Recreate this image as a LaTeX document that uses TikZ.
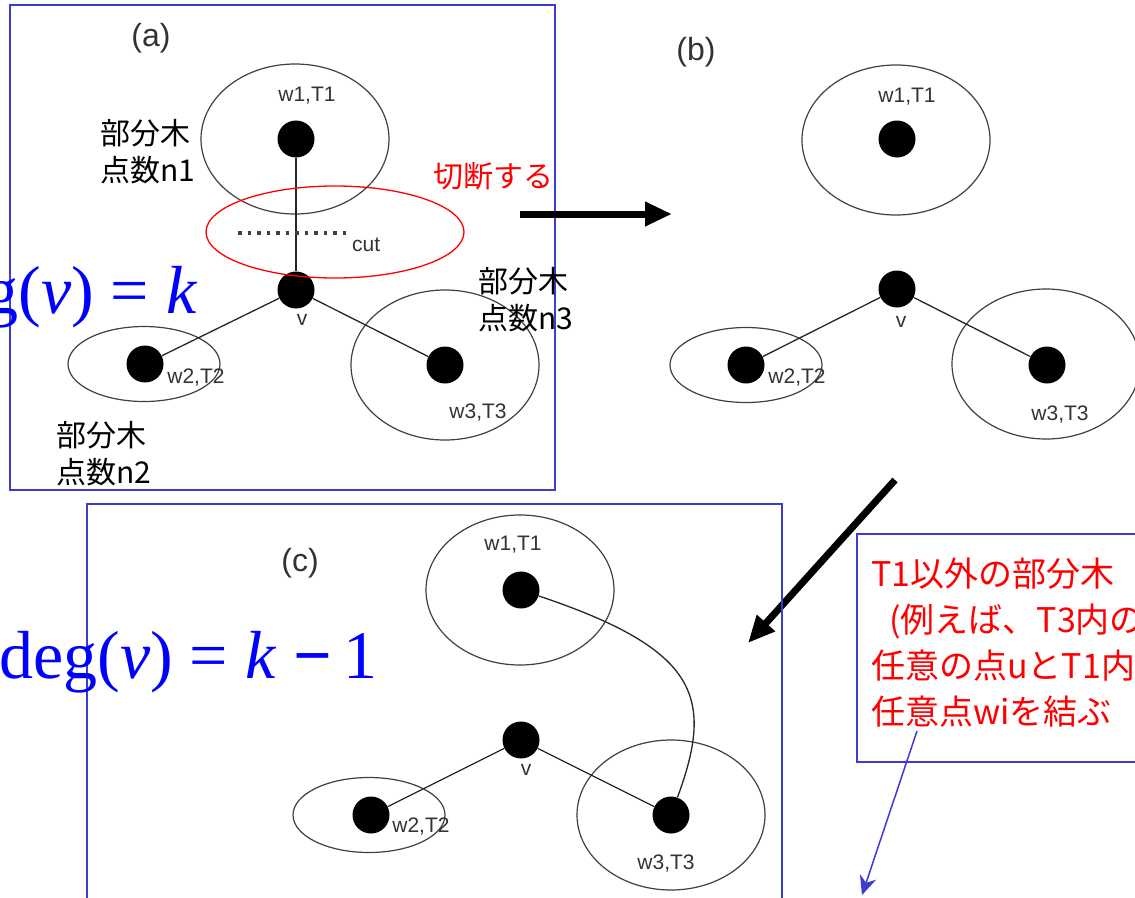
\documentclass[tikz,border=0pt]{standalone}
\usepackage{fontspec}
\setmainfont{Liberation Sans}
\newfontfamily\jpfont{Noto Sans CJK JP}
\newfontfamily\eqfont{Liberation Serif}
\usetikzlibrary{shapes.geometric, arrows.meta, positioning, calc}
\definecolor{frameblue}{RGB}{60,60,210}

\begin{document}
\begin{tikzpicture}[x=1pt, y=-1pt,
          subtree/.style={ellipse, draw=black!75, line width=1.2pt, inner sep=0pt, minimum width=188pt, minimum height=150pt},
          small_tree/.style={subtree, minimum width=152pt, minimum height=75pt},
          vertex/.style={circle, fill=black, minimum size=37pt, inner sep=0pt},
          edge/.style={line width=1.3pt, color=black!85},
          tag/.style={font=\fontsize{21}{21}\selectfont, text=black!80, inner sep=0pt},
          panel/.style={font=\fontsize{32}{32}\selectfont, text=black!80, inner sep=0pt},
          memo/.style={font=\jpfont\fontsize{30}{37}\selectfont, align=left, anchor=west, inner sep=0pt},
          remark/.style={font=\jpfont\fontsize{34}{34}\selectfont, text=red, anchor=base west, inner sep=0pt},
          formula/.style={font=\eqfont\fontsize{68}{68}\selectfont, text=blue, anchor=base west, inner sep=0pt},
          frame/.style={draw=frameblue, line width=1.3pt},
          cutline/.style={line width=3.5pt, color=black!75, dash pattern=on 3.5pt off 6pt},
          bigarrow/.style={-{Triangle[length=27pt, width=23pt]}, line width=7pt},
          hintarrow/.style={-{Stealth[length=19pt, width=17pt]}, line width=1.5pt, color=frameblue}]

        \useasboundingbox (0,0) rectangle (1135,897);
        \fill [white] (0,0) rectangle (1135,897);
        \clip (0,0) rectangle (1135,897);

        \draw [frame] (10,5) rectangle (555,490);
        \node [panel] (label_a) at (151,38) {(a)};
        \node [subtree] (a_t1) at (295,139) {};
        \node [small_tree] (a_t2) at (144,364) {};
        \node [subtree] (a_t3) at (445,365) {};
        \node [vertex] (a_w1) at (296,139) {};
        \node [vertex] (a_v) at (296,290) {};
        \node [vertex] (a_w2) at (145,364) {};
        \node [vertex] (a_w3) at (445,365) {};
        \node [tag] (a_w1_tag) at (307,96) {w1,T1};
        \node [tag] (a_v_tag) at (302,320) {v};
        \node [tag] (a_w2_tag) at (196,378) {w2,T2};
        \node [tag] (a_w3_tag) at (478,413) {w3,T3};
        \draw [edge] (a_w1) -- (a_v);
        \draw [edge] (a_v) -- (a_w2);
        \draw [edge] (a_v) -- (a_w3);

        \node [ellipse, draw=red, line width=1.3pt, inner sep=0pt, minimum width=258pt, minimum height=92pt] (cut_ring) at (335,232) {};
        \coordinate (cut_l) at (238,233);
        \coordinate (cut_r) at (347,233);
        \draw [cutline] (cut_l) -- (cut_r);
        \node [tag, anchor=west] (cut_tag) at (352,245) {cut};
        \node [memo] (size_n1) at (100,152) {部分木\\点数n1};
        \node [memo] (size_n2) at (56,454) {部分木\\点数n2};
        \node [memo] (size_n3) at (478,300) {部分木\\点数n3};
        \node [memo, text=red] (cut_word) at (433,176) {切断する};
        \node [formula] (deg_k) at (-80,313) {deg(\textit{v}) = \textit{k}};

        \coordinate (cut_from) at (520,214);
        \coordinate (cut_to) at (672,214);
        \draw [bigarrow] (cut_from) -- (cut_to);

        \node [panel] (label_b) at (696,52) {(b)};
        \node [subtree] (b_t1) at (896,140) {};
        \node [small_tree] (b_t2) at (746,365) {};
        \node [subtree] (b_t3) at (1046,364) {};
        \node [vertex] (b_w1) at (897,139) {};
        \node [vertex] (b_v) at (897,289) {};
        \node [vertex] (b_w2) at (746,365) {};
        \node [vertex] (b_w3) at (1047,365) {};
        \node [tag] (b_w1_tag) at (907,97) {w1,T1};
        \node [tag] (b_v_tag) at (901,322) {v};
        \node [tag] (b_w2_tag) at (797,378) {w2,T2};
        \node [tag] (b_w3_tag) at (1060,415) {w3,T3};
        \draw [edge] (b_v) -- (b_w2);
        \draw [edge] (b_v) -- (b_w3);

        \coordinate (link_from) at (895,480);
        \coordinate (link_to) at (748,643);
        \draw [bigarrow] (link_from) -- (link_to);

        \draw [frame] (87,504) rectangle (782,910);
        \node [panel] (label_c) at (300,563) {(c)};
        \node [subtree] (c_t1) at (520,590) {};
        \node [small_tree] (c_t2) at (369,815) {};
        \node [subtree] (c_t3) at (671,815) {};
        \node [vertex] (c_w1) at (521,590) {};
        \node [vertex] (c_v) at (521,740) {};
        \node [vertex] (c_w2) at (371,815) {};
        \node [vertex] (c_w3) at (671,815) {};
        \node [tag] (c_w1_tag) at (513,545) {w1,T1};
        \node [tag] (c_v_tag) at (526,770) {v};
        \node [tag] (c_w2_tag) at (421,827) {w2,T2};
        \node [tag] (c_w3_tag) at (666,863) {w3,T3};
        \draw [edge] (c_v) -- (c_w2);
        \draw [edge] (c_v) -- (c_w3);
        \draw [edge] (c_w1) .. controls (700,650) and (714,698) .. (c_w3);
        \node [formula] (deg_k1) at (-1,678) {deg(\textit{v}) = \textit{k} \textbf{−}\,1};

        \draw [frame] (857,534) rectangle (1145,762);
        \node [remark] (hint_1) at (871,586) {T1以外の部分木};
        \node [remark] (hint_2) at (889,632) {(例えば、T3内の};
        \node [remark] (hint_3) at (871,678) {任意の点uとT1内};
        \node [remark] (hint_4) at (871,724) {任意点wiを結ぶ};
        \coordinate (hint_from) at (917,731);
        \coordinate (hint_to) at (862,895);
        \draw [hintarrow] (hint_from) -- (hint_to);
      \end{tikzpicture}
\end{document}
